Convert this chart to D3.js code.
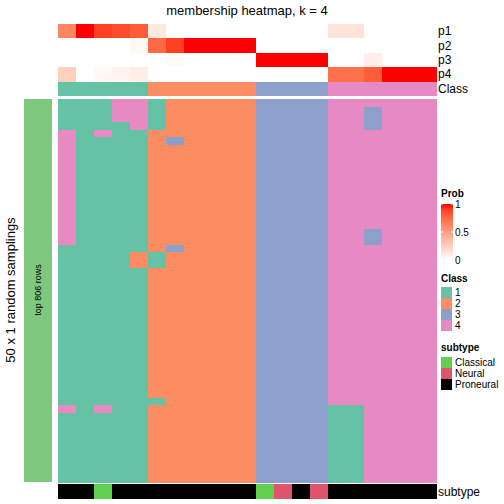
<!DOCTYPE html>
<html><head><meta charset="utf-8">
<script src="https://cdn.jsdelivr.net/npm/d3@7/dist/d3.min.js"></script>
<style>body{margin:0;background:#fff}text{font-family:"Liberation Sans",Arial,sans-serif}rect{shape-rendering:crispEdges}</style>
</head><body><svg id="c" width="504" height="504"></svg>
<script>
// ---- data ----
const samples = d3.range(1, 22).map(i => "s" + i);
const p1 = [0.62,1,0.9,0.86,0.8,0.12,0,0,0,0,0,0,0,0,0,0.15,0.15,0,0,0,0];
const p2 = [0,0,0,0,0.04,0.75,0.9,1,1,1,1,0,0,0,0,0,0,0,0,0,0];
const p3 = [0,0,0,0,0,0,0.03,0,0,0,0,1,1,1,1,0,0,0.09,0,0,0];
const p4 = [0.25,0,0.04,0.06,0.09,0,0,0,0,0,0,0,0,0,0,0.72,0.72,0.8,1,1,1];
const classLabels = ["1","1","1","1","1","2","2","2","2","2","2","3","3","3","3","4","4","4","4","4","4"];
const subtypeLabels = ["Proneural","Proneural","Classical","Proneural","Proneural","Proneural","Proneural","Proneural","Proneural","Proneural","Proneural","Classical","Neural","Proneural","Neural","Proneural","Proneural","Proneural","Proneural","Proneural","Proneural"];
// membership per random sampling (rows) x sample (columns)
const rowsA = [
"111441222223333444444",
"111441222223333443444",
"111441222223333443444",
"111141222223333443444",
"414112222223333444444",
"411112322223333444444"];
const rowsB = d3.range(11).map(() => "411112222223333444444");        // rows 7-17
const rowsC = ["411112222223333443444","411112222223333443444",           // rows 18-19
"111112322223333444444",                                                  // row 20
"111121222223333444444","111121222223333444444"];                         // rows 21-22
const rowsD = d3.range(17).map(() => "111112222223333444444");        // rows 23-39
const rowsE = ["111111222223333444444","414112222223333114444"];           // rows 40-41
const rowsF = d3.range(9).map(() => "111112222223333114444");         // rows 42-50
const membership = [].concat(rowsA, rowsB, rowsC, rowsD, rowsE, rowsF);
const classNames = ["1","2","3","4"];
const classColors = ["#66C2A5","#FC8D62","#8DA0CB","#E78AC3"];
const subtypeNames = ["Classical","Neural","Proneural"];
const subtypeColors = ["#61D04F","#DF536B","#000000"];
const probTicks = [0, 0.5, 1];

// ---- drawing ----
const svg = d3.select("#c");
const x = d3.scaleBand().domain(d3.range(samples.length)).range([58, 436]);
const probColor = d3.scaleLinear().domain([0,1]).range(["#FFFFFF","#FF0000"]).interpolate(d3.interpolateLab);
const classColor = d3.scaleOrdinal().domain(classNames).range(classColors);
const subtypeColor = d3.scaleOrdinal().domain(subtypeNames).range(subtypeColors);

svg.append("text").attr("x", 247).attr("y", 15).attr("text-anchor","middle")
  .attr("font-size", 13).text("membership heatmap, k = 4");

// prob annotation
const probRows = [["p1",p1],["p2",p2],["p3",p3],["p4",p4]];
const yp = d3.scaleBand().domain(probRows.map(d=>d[0])).range([24, 81]);
probRows.forEach(([name, vals]) => {
  svg.append("g").selectAll("rect").data(vals).join("rect")
    .attr("x",(d,i)=>x(i)).attr("y",yp(name)).attr("width",x.bandwidth()+0.5).attr("height",yp.bandwidth()+0.5)
    .attr("fill",d=>probColor(d));
  svg.append("text").attr("x",438).attr("y",yp(name)+yp.bandwidth()/2).attr("dy","0.36em")
    .attr("font-size",12).text(name);
});
// class annotation
svg.append("g").selectAll("rect").data(classLabels).join("rect")
  .attr("x",(d,i)=>x(i)).attr("y",82).attr("width",x.bandwidth()+0.5).attr("height",14)
  .attr("fill",d=>classColor(d));
svg.append("text").attr("x",438).attr("y",89).attr("dy","0.36em").attr("font-size",12).text("Class");

// main heatmap
const y = d3.scaleBand().domain(d3.range(membership.length)).range([99, 482]);
const cells = [];
membership.forEach((row, r) => row.split("").forEach((c, j) => cells.push({r, j, c})));
svg.append("g").selectAll("rect").data(cells).join("rect")
  .attr("x",d=>x(d.j)).attr("y",d=>y(d.r)).attr("width",x.bandwidth()+0.5).attr("height",y.bandwidth()+0.5)
  .attr("fill",d=>classColor(d.c));

// left bar
svg.append("rect").attr("x",24).attr("y",99).attr("width",28).attr("height",383).attr("fill","#7FC97F");
svg.append("text").attr("transform","translate(41,290) rotate(-90)").attr("text-anchor","middle")
  .attr("font-size",9).text("top 806 rows");
svg.append("text").attr("transform","translate(15,290) rotate(-90)").attr("text-anchor","middle")
  .attr("font-size",13).text("50 x 1 random samplings");

// subtype annotation
svg.append("g").selectAll("rect").data(subtypeLabels).join("rect")
  .attr("x",(d,i)=>x(i)).attr("y",484).attr("width",x.bandwidth()+0.5).attr("height",15)
  .attr("fill",d=>subtypeColor(d));
svg.append("text").attr("x",438).attr("y",492).attr("dy","0.36em").attr("font-size",12).text("subtype");

// legends
const lg = svg.append("g");
lg.append("text").attr("x",441).attr("y",197).attr("font-size",10).attr("font-weight","bold").text("Prob");
const defs = svg.append("defs");
const grad = defs.append("linearGradient").attr("id","pg").attr("x1",0).attr("x2",0).attr("y1",1).attr("y2",0);
d3.range(0,1.01,0.1).forEach(t => grad.append("stop").attr("offset",t).attr("stop-color",probColor(t)));
const yl = d3.scaleLinear().domain([0,1]).range([260, 204]);
lg.append("rect").attr("x",441).attr("y",204).attr("width",12).attr("height",56).attr("fill","url(#pg)");
probTicks.forEach(t => {
  lg.append("line").attr("x1",441).attr("x2",443).attr("y1",yl(t)).attr("y2",yl(t)).attr("stroke","#fff");
  lg.append("line").attr("x1",451).attr("x2",453).attr("y1",yl(t)).attr("y2",yl(t)).attr("stroke","#fff");
  lg.append("text").attr("x",455).attr("y",yl(t)).attr("dy","0.36em").attr("font-size",10).text(t);
});
lg.append("text").attr("x",441).attr("y",282).attr("font-size",10).attr("font-weight","bold").text("Class");
classNames.forEach((c,i) => {
  lg.append("rect").attr("x",441).attr("y",287+i*11).attr("width",11).attr("height",11).attr("fill",classColor(c));
  lg.append("text").attr("x",455).attr("y",287+i*11+5.5).attr("dy","0.36em").attr("font-size",10).text(c);
});
lg.append("text").attr("x",441).attr("y",351).attr("font-size",10).attr("font-weight","bold").text("subtype");
subtypeNames.forEach((c,i) => {
  lg.append("rect").attr("x",441).attr("y",357+i*11).attr("width",11).attr("height",11).attr("fill",subtypeColor(c));
  lg.append("text").attr("x",455).attr("y",357+i*11+5.5).attr("dy","0.36em").attr("font-size",10).text(c);
});
</script></body></html>
